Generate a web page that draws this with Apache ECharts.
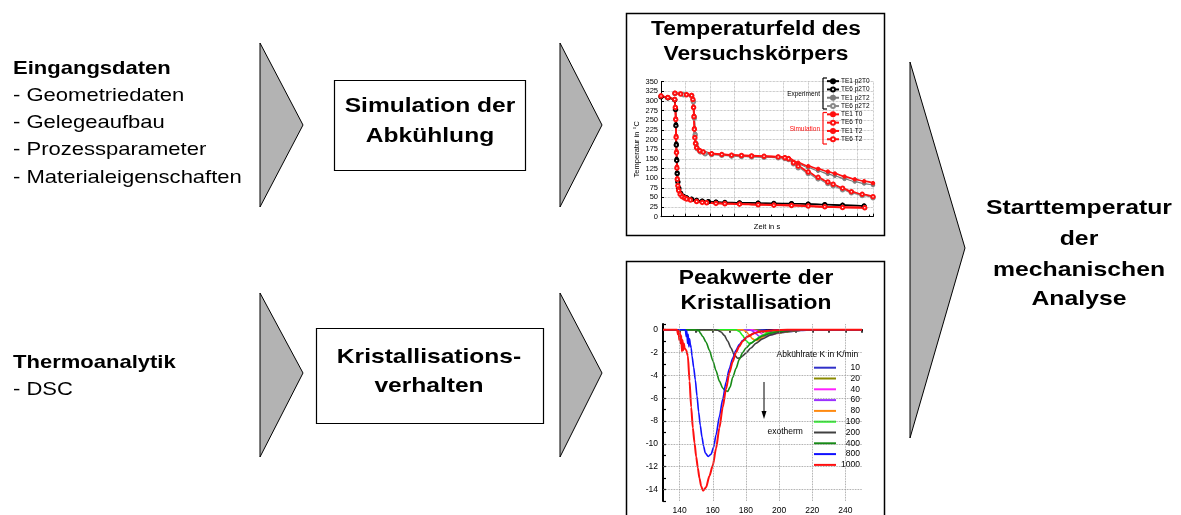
<!DOCTYPE html>
<html>
<head>
<meta charset="utf-8">
<title>Starttemperatur der mechanischen Analyse</title>
<script src="https://cdn.jsdelivr.net/npm/echarts@6/dist/echarts.min.js"></script>
<style>
  html, body { margin: 0; padding: 0; background: #fff; }
  #main { width: 1181px; height: 515px; }
</style>
</head>
<body>
<div id="main"></div>
<script>
// ---------- Temperaturfeld: time [s] / temperature [°C] ----------
const te1_p2T0 = [[0,312],[70,309],[140,304],[148,280],[152,240],[156,190],[160,150],[165,115],[172,92],[182,75],[200,62],[230,54],[261,50],[312,46],[363,43],[420,41],[482,40],[560,38.5],[651,37.5],[800,36.5],[990,36],[1150,35],[1330,34.6],[1500,33.5],[1669,32],[1850,30.5],[2069,28]];
const te6_p2T0 = [[0,311],[70,308],[140,303],[148,278],[152,236],[156,186],[160,146],[165,112],[172,90],[182,73],[200,60],[230,52],[261,48.5],[312,45],[363,42],[420,40],[482,39],[560,37.5],[651,36.5],[800,35.5],[990,35],[1150,34],[1330,33.5],[1500,32.5],[1669,31],[1850,29.5],[2069,27.5]];
const te1_p2T2 = [[142,320],[230,317],[312,314],[330,300],[340,260],[348,215],[358,190],[370,178],[400,170],[450,165],[516,162],[620,160],[719,158],[820,157],[923,156],[1050,155],[1194,154],[1262,152],[1300,150],[1398,137],[1500,127],[1601,119],[1700,111],[1771,106],[1870,98],[1974,91],[2070,86],[2160,82]];
const te6_p2T2 = [[142,319],[230,316],[312,313],[330,298],[340,256],[348,212],[358,188],[370,176],[400,168],[450,163],[516,161],[620,159],[719,157],[820,156],[923,155],[1050,154],[1194,153],[1262,151],[1300,148],[1350,137],[1398,127],[1500,112],[1601,98],[1700,86],[1754,80],[1850,70],[1940,62],[2050,55],[2160,49]];
const te1_T0 = [[0,314],[70,310],[140,305],[146,285],[150,255],[154,210],[158,170],[162,130],[166,100],[172,82],[180,70],[195,60],[215,54],[240,50],[261,47.5],[300,44],[363,40.5],[420,38],[465,37],[560,35.5],[651,34.6],[800,33.5],[990,32],[1150,31],[1330,30],[1500,28],[1669,26],[1850,24.5],[2076,23.5]];
const te6_T0 = [[0,313],[70,309],[140,304],[146,283],[150,252],[154,206],[158,166],[162,126],[166,97],[172,80],[180,68],[195,58],[215,52],[240,48.5],[261,46],[300,43],[363,39.5],[420,37],[465,36],[560,34.5],[651,33.5],[800,32.5],[990,31],[1150,30],[1330,29],[1500,27.5],[1669,25.5],[1850,24],[2076,23]];
const te1_T2 = [[142,321],[200,319],[260,317],[312,315.4],[325,305],[332,285],[336,262],[340,230],[345,207],[352,192],[363,180],[395,172],[431,168.5],[516,164],[620,162],[719,160],[820,159],[923,158],[1050,157],[1194,155.6],[1262,154],[1300,152],[1398,140],[1500,131],[1601,124],[1700,117],[1771,112],[1870,104],[1974,97],[2070,92],[2160,87]];
const te6_T2 = [[142,320],[200,318],[260,316],[312,314.5],[325,304],[332,283],[336,259],[340,227],[345,205],[352,190],[363,179],[395,171],[431,167.5],[516,163],[620,161],[719,159.5],[820,158.5],[923,157.5],[1050,156.5],[1194,155],[1262,153],[1300,150],[1350,140],[1398,131],[1500,116],[1601,102],[1700,90],[1754,84],[1850,74],[1940,65],[2050,58],[2160,52]];

// ---------- DSC: temperature [°C] / heat flow ----------
const dsc10 = [[130,0],[190,0],[193,-0.06],[196,-0.15],[199,-0.23],[201,-0.25],[204,-0.22],[208,-0.15],[213,-0.07],[220,-0.02],[228,0],[250,0]];
const dsc20 = [[130,0],[186,0],[189,-0.08],[192,-0.2],[195,-0.32],[197,-0.35],[200,-0.3],[204,-0.2],[209,-0.1],[215,-0.03],[222,0],[250,0]];
const dsc40 = [[130,0],[184,0],[186,-0.08],[188,-0.22],[190,-0.4],[193,-0.5],[196,-0.42],[199,-0.28],[203,-0.15],[209,-0.05],[216,0],[250,0]];
const dsc60 = [[130,0],[182,0],[184,-0.12],[186,-0.35],[188,-0.58],[190,-0.65],[192,-0.58],[195,-0.38],[199,-0.2],[205,-0.08],[212,-0.02],[218,0],[250,0]];
const dsc80 = [[130,0],[178,0],[180,-0.15],[182,-0.45],[184,-0.8],[186,-0.95],[188,-0.85],[190,-0.65],[193,-0.4],[197,-0.2],[203,-0.08],[210,-0.02],[216,0],[250,0]];
const dsc100 = [[130,0],[174,0],[176,-0.15],[178,-0.5],[180,-0.95],[182,-1.2],[184,-1.1],[186,-0.85],[189,-0.55],[193,-0.3],[198,-0.14],[205,-0.05],[212,0],[250,0]];
const dsc200 = [[130,0],[161,0],[163,-0.05],[165,-0.2],[167,-0.5],[169,-1.0],[171,-1.6],[173,-2.2],[175,-2.5],[176.5,-2.45],[178,-2.3],[180,-2.05],[183,-1.6],[186,-1.2],[190,-0.8],[195,-0.45],[200,-0.25],[207,-0.1],[215,-0.02],[222,0],[250,0]];
const dsc400 = [[130,0],[150,0],[151,-0.1],[151.5,0],[152.5,-0.3],[154,-0.6],[156,-1.1],[158,-1.8],[160,-2.7],[162,-3.6],[164,-4.5],[166,-5.1],[167.5,-5.35],[169,-5.4],[170.5,-5.0],[172,-4.2],[174,-3.4],[176,-2.6],[178,-2.0],[180,-1.6],[183,-1.2],[186,-0.9],[190,-0.55],[195,-0.3],[200,-0.13],[207,-0.04],[215,0],[250,0]];
const dsc800 = [[130,0],[143.5,0],[144,-0.6],[144.4,-0.1],[144.8,-1.2],[145.2,-0.4],[145.6,-1.5],[146,-0.8],[146.5,-1.3],[147,-1.6],[147.5,-2.3],[148.5,-3.3],[149.5,-4.4],[150.5,-5.8],[151.5,-7.2],[152.5,-8.4],[153.5,-9.4],[154.5,-10.2],[155.5,-10.8],[157.3,-11.1],[159,-10.9],[160.5,-10.3],[162,-9.2],[164,-7.6],[166,-6.1],[168,-4.6],[170,-3.4],[172,-2.5],[174,-1.8],[176,-1.3],[178,-0.95],[181,-0.6],[185,-0.3],[190,-0.12],[197,-0.04],[205,0],[250,0]];
const dsc1000 = [[130,0],[138.5,0],[139,-0.4],[139.4,-0.1],[139.8,-0.9],[140.2,-0.2],[140.6,-1.2],[141,-0.5],[141.4,-1.9],[141.8,-0.9],[142.2,-1.8],[142.6,-1.2],[143,-1.6],[144,-1.8],[145,-2.3],[146,-4.5],[147,-6.8],[148,-8.6],[149,-9.9],[150,-11.1],[151,-12.1],[152,-13],[153,-13.7],[154.2,-14.1],[156,-13.8],[158,-12.8],[160,-11.9],[162,-10.4],[164,-8.6],[166,-6.8],[168,-5.2],[170,-3.8],[172,-2.8],[174,-2.0],[176,-1.45],[178,-1.0],[181,-0.6],[185,-0.3],[190,-0.13],[197,-0.04],[205,0],[250,0]];

const rateNames = ['10','20','40','60','80','100','200','400','800','1000'];
const rateData = [dsc10, dsc20, dsc40, dsc60, dsc80, dsc100, dsc200, dsc400, dsc800, dsc1000];
const rateColors = ['#3030c8','#8a8a00','#ff20ff','#9a30ff','#ff8a10','#20f020','#404040','#168a16','#1010ff','#ff1010'];

// grid line positions of the DSC plot
const dscGridX = [140, 160, 180, 200, 220, 240];
const dscGridY = [-14, -12, -10, -8, -6, -4, -2];

const FONT = '"Liberation Sans", Arial, Helvetica, sans-serif';

function txt(x, y, text, size, bold, align, sx, color) {
  return {
    type: 'text', x: x, y: y, scaleX: sx || 1, z: 10, silent: true,
    style: {
      text: text, fontFamily: FONT, fontSize: size, fontWeight: bold ? 'bold' : 'normal',
      fill: color || '#000', align: align || 'left', verticalAlign: 'middle',
      textAlign: align || 'left', textVerticalAlign: 'middle'
    }
  };
}
function arrow(pts) {
  return { type: 'polygon', z: 1, silent: true, shape: { points: pts },
    style: { fill: '#b3b3b3', stroke: '#000', lineWidth: 1 } };
}
function box(x, y, w, h, lw) {
  return { type: 'rect', z: 0, silent: true, shape: { x: x, y: y, width: w, height: h },
    style: { fill: '#fff', stroke: '#000', lineWidth: lw || 1.2 } };
}
function seg(x1, y1, x2, y2, color, lw) {
  return { type: 'line', z: 10, silent: true, shape: { x1: x1, y1: y1, x2: x2, y2: y2 },
    style: { stroke: color, lineWidth: lw || 1 } };
}

const graphics = [
  // arrows
  arrow([[260,43],[303,125],[260,207]]),
  arrow([[560,43],[602,125],[560,207]]),
  arrow([[260,293],[303,373],[260,457]]),
  arrow([[560,293],[602,373],[560,457]]),
  arrow([[910,62],[965,248],[910,438]]),
  // boxes
  box(334.5, 80.5, 191, 90),
  box(316.5, 328.5, 227, 95),
  box(626.5, 13.5, 258, 222, 1.5),
  box(626.5, 261.5, 258, 270, 1.5),
  // left input texts
  txt(13, 68.5, 'Eingangsdaten', 18.5, true, 'left', 1.19),
  txt(13, 96, '- Geometriedaten', 18.5, false, 'left', 1.19),
  txt(13, 123, '- Gelegeaufbau', 18.5, false, 'left', 1.19),
  txt(13, 150, '- Prozessparameter', 18.5, false, 'left', 1.19),
  txt(13, 177.5, '- Materialeigenschaften', 18.5, false, 'left', 1.19),
  txt(13, 362.5, 'Thermoanalytik', 18.5, true, 'left', 1.19),
  txt(13, 390, '- DSC', 18.5, false, 'left', 1.19),
  // process boxes
  txt(430, 106, 'Simulation der', 21, true, 'center', 1.17),
  txt(430, 136, 'Abkühlung', 21, true, 'center', 1.17),
  txt(429, 357, 'Kristallisations-', 21, true, 'center', 1.17),
  txt(429, 386, 'verhalten', 21, true, 'center', 1.17),
  // chart titles
  txt(756, 29, 'Temperaturfeld des', 20, true, 'center', 1.14),
  txt(756, 54.5, 'Versuchskörpers', 20, true, 'center', 1.14),
  txt(756, 278.5, 'Peakwerte der', 20, true, 'center', 1.14),
  txt(756, 303.5, 'Kristallisation', 20, true, 'center', 1.14),
  // result
  txt(1079, 208.5, 'Starttemperatur', 21, true, 'center', 1.18),
  txt(1079, 239, 'der', 21, true, 'center', 1.18),
  txt(1079, 270, 'mechanischen', 21, true, 'center', 1.18),
  txt(1079, 299, 'Analyse', 21, true, 'center', 1.18),
  // legend brackets of the temperature plot
  seg(823, 78, 823, 109, '#000', 1.2), seg(823, 78, 827, 78, '#000', 1.2), seg(823, 109, 827, 109, '#000', 1.2),
  seg(823, 112.5, 823, 144, '#ff1010', 1.2), seg(823, 112.5, 827, 112.5, '#ff1010', 1.2), seg(823, 144, 827, 144, '#ff1010', 1.2),
  txt(820, 94.5, 'Experiment', 6.5, false, 'right', 1, '#000'),
  txt(820, 129, 'Simulation', 6.5, false, 'right', 1, '#ff1010'),
  // DSC annotations
  txt(776.5, 355, 'Abkühlrate K in K/min', 8.5, false, 'left', 1),
  txt(767.5, 431.5, 'exotherm', 8.5, false, 'left', 1),
  seg(764, 382, 764, 413, '#000', 1),
  { type: 'polygon', z: 10, silent: true, shape: { points: [[761.5,411],[766.5,411],[764,419]] }, style: { fill: '#000' } }
];

function tempSeries(name, data, color, sym, lw) {
  return {
    name: name, type: 'line', xAxisIndex: 0, yAxisIndex: 0, data: data,
    smooth: 0.3, smoothMonotone: 'x', symbol: sym, symbolSize: 3.5,
    lineStyle: { color: color, width: lw }, itemStyle: { color: color, borderColor: color, borderWidth: 1 },
    emphasis: { disabled: true }
  };
}

const series = [
  tempSeries('TE1 p2T0', te1_p2T0, '#000', 'circle', 1.2),
  tempSeries('TE6 p2T0', te6_p2T0, '#000', 'emptyCircle', 1.2),
  tempSeries('TE1 p2T2', te1_p2T2, '#7a7a7a', 'circle', 1.2),
  tempSeries('TE6 p2T2', te6_p2T2, '#8a8a8a', 'emptyCircle', 1.2),
  tempSeries('TE1 T0', te1_T0, '#ff1010', 'circle', 1.8),
  tempSeries('TE6 T0', te6_T0, '#ff1010', 'emptyCircle', 1.8),
  tempSeries('TE1 T2', te1_T2, '#ff1010', 'circle', 1.8),
  tempSeries('TE6 T2', te6_T2, '#ff1010', 'emptyCircle', 1.8)
];

rateNames.forEach(function (n, i) {
  const s = {
    name: n, type: 'line', xAxisIndex: 1, yAxisIndex: 1, data: rateData[i],
    smooth: 0.25, smoothMonotone: 'x', symbol: 'none',
    lineStyle: { color: rateColors[i], width: n === '1000' ? 2 : 1.6 },
    itemStyle: { color: rateColors[i] },
    emphasis: { disabled: true }
  };
  if (i === 0) {
    s.markLine = {
      silent: true, symbol: 'none', animation: false, label: { show: false },
      lineStyle: { type: 'dotted', color: '#8a8a8a', width: 0.8 },
      emphasis: { disabled: true },
      data: dscGridX.map(function (v) { return { xAxis: v }; })
        .concat(dscGridY.map(function (v) { return { yAxis: v }; }))
    };
  }
  series.push(s);
});

const chart = echarts.init(document.getElementById('main'), null, { renderer: 'canvas' });
chart.setOption({
  animation: false,
  backgroundColor: '#fff',
  textStyle: { fontFamily: FONT },
  graphic: graphics,
  grid: [
    { left: 661, top: 81.7, width: 212, height: 135 },
    { left: 663, top: 324, width: 199, height: 177.7 }
  ],
  legend: [
    {
      data: ['TE1 p2T0','TE6 p2T0','TE1 p2T2','TE6 p2T2','TE1 T0','TE6 T0','TE1 T2','TE6 T2'],
      orient: 'vertical', left: 826, top: 77, itemWidth: 12, itemHeight: 5, itemGap: 0,
      selectedMode: false, padding: 0,
      textStyle: { fontSize: 6.5, color: '#000', lineHeight: 8.3, fontFamily: FONT, padding: [0,0,0,-3] }
    },
    {
      data: rateNames,
      orient: 'vertical', left: 814, top: 362.3, itemWidth: 22, itemHeight: 2, itemGap: 0,
      icon: 'rect',
      selectedMode: false, padding: 0,
      formatter: '{n|{name}}',
      textStyle: { fontSize: 8.5, color: '#000', fontFamily: FONT, lineHeight: 10.8,
        rich: { n: { width: 19, align: 'right', fontSize: 8.5, lineHeight: 10.8, fontFamily: FONT } } }
    }
  ],
  xAxis: [
    {
      type: 'value', gridIndex: 0, min: 0, max: 2160, interval: 250,
      name: 'Zeit in s', nameLocation: 'middle', nameGap: 6,
      nameTextStyle: { fontSize: 7.5, color: '#000' },
      axisLine: { show: true, lineStyle: { color: '#000', width: 1 } },
      axisTick: { show: true, inside: true, length: 3, lineStyle: { color: '#000' } },
      minorTick: { show: true, splitNumber: 2, length: 2, lineStyle: { color: '#000' } },
      axisLabel: { show: false },
      splitLine: { show: true, lineStyle: { type: 'dotted', color: '#9a9a9a', width: 0.7 } }
    },
    {
      type: 'value', gridIndex: 1, min: 130, max: 250, interval: 10,
      axisLine: { show: true, lineStyle: { color: '#000', width: 2 } },
      axisTick: { show: true, inside: false, length: 3, lineStyle: { color: '#000', width: 1.5 } },
      axisLabel: { fontSize: 8.5, color: '#000', margin: 5,
        formatter: function (v) { return (v % 20 === 0) ? String(v) : ''; } },
      splitLine: { show: false }
    }
  ],
  yAxis: [
    {
      type: 'value', gridIndex: 0, min: 0, max: 350, interval: 25,
      name: 'Temperatur in °C', nameLocation: 'middle', nameGap: 20, nameRotate: 90,
      nameTextStyle: { fontSize: 7.5, color: '#000' },
      axisLine: { show: true, lineStyle: { color: '#000', width: 1 } },
      axisTick: { show: true, inside: true, length: 3, lineStyle: { color: '#000' } },
      axisLabel: { fontSize: 7.5, color: '#000', margin: 3 },
      splitLine: { show: true, lineStyle: { type: 'dotted', color: '#9a9a9a', width: 0.7 } }
    },
    {
      type: 'value', gridIndex: 1, min: -15, max: 0.5, interval: 1,
      axisLine: { show: true, lineStyle: { color: '#000', width: 2 } },
      axisTick: { show: true, inside: true, length: 3, lineStyle: { color: '#000', width: 1.2 } },
      axisLabel: { fontSize: 8.5, color: '#000', margin: 5,
        formatter: function (v) { return (Number.isInteger(v) && v % 2 === 0 && v >= -14) ? String(v) : ''; } },
      splitLine: { show: false }
    }
  ],
  series: series
});
</script>
</body>
</html>
